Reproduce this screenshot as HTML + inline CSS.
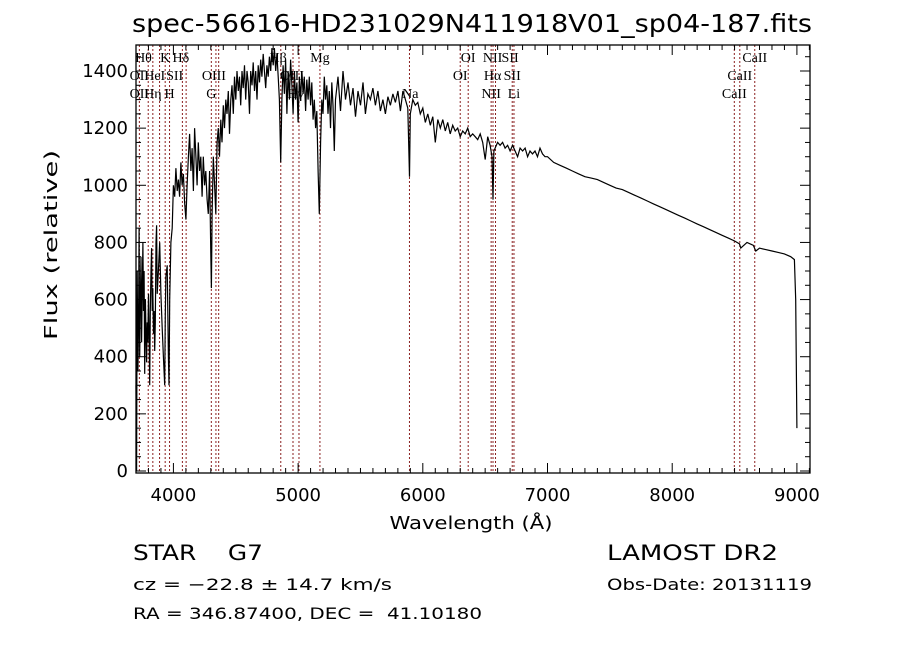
<!DOCTYPE html>
<html><head><meta charset="utf-8"><style>
body{margin:0;background:#fff;}
svg text{font-family:"DejaVu Sans","Liberation Sans",sans-serif;fill:#000;white-space:pre;}
.lab{font-family:"Liberation Serif",serif;font-size:14px;}
</style></head><body>
<svg id="chart" width="900" height="649" viewBox="0 0 900 649" xmlns="http://www.w3.org/2000/svg" xml:space="preserve">
<rect width="900" height="649" fill="#fff"/>
<text x="472" y="32" font-size="25" text-anchor="middle" textLength="680" lengthAdjust="spacingAndGlyphs">spec-56616-HD231029N411918V01_sp04-187.fits</text>
<g id="lines"></g>
<g id="labels"></g>
<path id="spec" fill="none" stroke="#000" stroke-width="1.2"/>
<g id="axes"></g>
<text transform="translate(57,245) rotate(-90)" font-size="18" text-anchor="middle" textLength="190" lengthAdjust="spacingAndGlyphs">Flux (relative)</text>
<text x="471" y="529" font-size="18" text-anchor="middle" textLength="163" lengthAdjust="spacingAndGlyphs">Wavelength (Å)</text>
<text x="133" y="560" font-size="21" textLength="130" lengthAdjust="spacingAndGlyphs">STAR    G7</text>
<text x="133" y="590" font-size="16" textLength="259" lengthAdjust="spacingAndGlyphs">cz = −22.8 ± 14.7 km/s</text>
<text x="133" y="619" font-size="16" textLength="349" lengthAdjust="spacingAndGlyphs">RA = 346.87400, DEC =  41.10180</text>
<text x="607" y="560" font-size="21" textLength="171" lengthAdjust="spacingAndGlyphs">LAMOST DR2</text>
<text x="607" y="590" font-size="16" textLength="205" lengthAdjust="spacingAndGlyphs">Obs-Date: 20131119</text>
</svg>
<script>
const wl=[3700,3705,3710,3715,3720,3725,3730,3735,3740,3745,3750,3755,3760,3765,3770,3775,3780,3785,3790,3795,3800,3805,3810,3815,3820,3825,3830,3835,3840,3845,3850,3855,3860,3865,3870,3880,3890,3900,3910,3920,3930,3935,3940,3950,3960,3965,3970,3980,3990,4000,4010,4020,4030,4040,4050,4060,4070,4080,4090,4100,4110,4120,4130,4140,4150,4160,4170,4180,4190,4200,4210,4220,4230,4240,4250,4260,4270,4280,4290,4300,4305,4310,4320,4330,4340,4350,4360,4370,4380,4390,4400,4410,4420,4430,4440,4450,4460,4470,4480,4490,4500,4510,4520,4530,4540,4550,4560,4570,4580,4590,4600,4610,4620,4630,4640,4650,4660,4670,4680,4690,4700,4710,4720,4730,4740,4750,4760,4770,4780,4790,4800,4810,4820,4830,4840,4850,4860,4870,4880,4890,4900,4910,4920,4930,4940,4950,4960,4970,4980,4990,5000,5010,5020,5030,5040,5050,5060,5070,5080,5090,5100,5110,5120,5130,5140,5150,5160,5170,5180,5190,5200,5210,5220,5230,5240,5250,5260,5270,5280,5290,5300,5320,5340,5360,5380,5400,5420,5440,5460,5480,5500,5520,5540,5560,5580,5600,5620,5640,5660,5680,5700,5720,5740,5760,5780,5800,5820,5840,5860,5880,5893,5900,5920,5940,5960,5980,6000,6020,6040,6060,6080,6100,6120,6140,6160,6180,6200,6220,6240,6260,6280,6300,6320,6340,6360,6380,6400,6420,6440,6460,6480,6500,6520,6540,6555,6563,6570,6600,6620,6640,6660,6680,6700,6720,6740,6760,6780,6800,6820,6840,6860,6880,6900,6920,6940,6960,6980,7000,7050,7100,7150,7200,7250,7300,7350,7400,7450,7500,7550,7600,7650,7700,7750,7800,7850,7900,7950,8000,8050,8100,8150,8200,8250,8300,8350,8400,8450,8500,8540,8550,8600,8650,8670,8700,8750,8800,8850,8900,8950,8980,8990,9000];
const flux=[300,0,700,350,500,850,400,600,750,450,620,800,560,700,340,600,480,380,520,450,620,480,300,560,700,780,560,640,480,560,420,520,800,860,620,700,800,620,500,400,300,550,680,720,400,300,600,800,850,1000,960,1060,980,1020,960,1080,1000,1040,940,880,1000,1100,1180,1050,1130,980,1200,1100,1000,1150,1050,1100,960,1100,1000,1050,950,900,1050,760,640,900,1100,1000,900,1150,1200,1100,1230,1150,1280,1200,1300,1250,1330,1180,1300,1350,1250,1380,1300,1400,1330,1380,1280,1400,1340,1420,1300,1400,1360,1250,1400,1350,1430,1330,1400,1300,1420,1360,1440,1380,1460,1400,1340,1420,1380,1450,1400,1480,1420,1480,1400,1460,1380,1300,1080,1300,1420,1320,1440,1250,1400,1300,1440,1350,1250,1400,1300,1360,1220,1380,1300,1400,1320,1380,1260,1370,1300,1380,1280,1360,1230,1300,1200,1260,1050,900,1150,1300,1250,1380,1300,1350,1250,1330,1200,1360,1280,1120,1300,1380,1260,1400,1300,1360,1280,1340,1240,1330,1280,1360,1250,1320,1300,1340,1280,1330,1260,1300,1250,1310,1280,1320,1290,1330,1260,1330,1300,1270,1030,1250,1300,1280,1290,1250,1270,1220,1250,1210,1240,1150,1230,1200,1230,1190,1220,1180,1210,1190,1200,1170,1190,1180,1200,1170,1180,1170,1160,1180,1150,1090,1170,1140,1100,950,1120,1150,1140,1150,1130,1140,1120,1140,1120,1100,1130,1120,1130,1100,1120,1110,1120,1100,1130,1110,1100,1100,1080,1070,1060,1050,1040,1030,1025,1020,1010,1000,990,985,975,965,955,945,935,925,915,905,895,885,875,865,855,845,835,825,815,805,795,780,800,790,770,780,775,770,765,760,750,740,600,150];
const lineWl=[3727,3798,3835,3889,3934,3969,4072,4102,4304,4341,4363,4861,4959,5007,5175,5893,6300,6364,6548,6563,6583,6717,6731,8498,8542,8662];
const labelText=["Hθ","K","Hδ","Hβ","Mg","OII","HeI","SII","OIII","OIII","OII","Hη","H","G","Hγ","Na","OI","NII","SII","OI","Hα","SII","NII","Li","CaII","CaII","CaII"];
const labelWl=[3760,3934,4060,4840,5175,3727,3850,4010,4325,4950,3727,3835,3969,4304,4980,5900,6364,6560,6700,6300,6560,6717,6548,6731,8662,8542,8498];
const labelRow=[0,0,0,0,0,1,1,1,1,1,2,2,2,2,2,2,0,0,0,1,1,1,2,2,0,1,2];
const xTicks=[4000,5000,6000,7000,8000,9000];
const yTicks=[0,200,400,600,800,1000,1200,1400];
const X0=136,X1=810,Y0=473,Y1=45,WMIN=3700,WMAX=9105,FMIN=-7,FMAX=1491;
const xs=w=>X0+(w-WMIN)/(WMAX-WMIN)*(X1-X0);
const ys=f=>Y0-(f-FMIN)/(FMAX-FMIN)*(Y0-Y1);
const NS='http://www.w3.org/2000/svg';
function mk(tag,attrs,parent){const e=document.createElementNS(NS,tag);for(const k in attrs)e.setAttribute(k,attrs[k]);parent.appendChild(e);return e;}
const gl=document.getElementById('lines');
lineWl.forEach(w=>{const l=mk('line',{x1:xs(w),x2:xs(w),y1:Y1,y2:Y0,stroke:'#8b2020','stroke-width':1,'stroke-dasharray':'2,2'},gl);

});
const glab=document.getElementById('labels');
labelText.forEach((t,i)=>{const e=mk('text',{x:xs(labelWl[i]),y:62+labelRow[i]*18,'text-anchor':'middle',class:'lab'},glab);e.textContent=t;

});
let d='';wl.forEach((w,i)=>{d+=(i?'L':'M')+xs(w).toFixed(1)+','+ys(flux[i]).toFixed(1);});
document.getElementById('spec').setAttribute('d',d);
const ga=document.getElementById('axes');
const fr=mk('rect',{x:X0,y:Y1,width:X1-X0,height:Y0-Y1,fill:'none',stroke:'#000','stroke-width':1.3},ga);


for(let w=3800;w<=9100;w+=100){const maj=w%1000===0,L=maj?10:5;
mk('line',{x1:xs(w),x2:xs(w),y1:Y0,y2:Y0-L,stroke:'#000'},ga);mk('line',{x1:xs(w),x2:xs(w),y1:Y1,y2:Y1+L,stroke:'#000'},ga);}
for(let f=0;f<=1450;f+=50){const maj=f%200===0,L=maj?10:5;
mk('line',{x1:X0,x2:X0+L,y1:ys(f),y2:ys(f),stroke:'#000'},ga);mk('line',{x1:X1,x2:X1-L,y1:ys(f),y2:ys(f),stroke:'#000'},ga);}
xTicks.forEach(w=>{const t=mk('text',{x:xs(w),y:501,'font-size':18,'text-anchor':'middle'},ga);t.textContent=w;

});
yTicks.forEach(f=>{const t=mk('text',{x:128,y:ys(f)+6,'font-size':18,'text-anchor':'end'},ga);t.textContent=f;

});
</script>
</body></html>
